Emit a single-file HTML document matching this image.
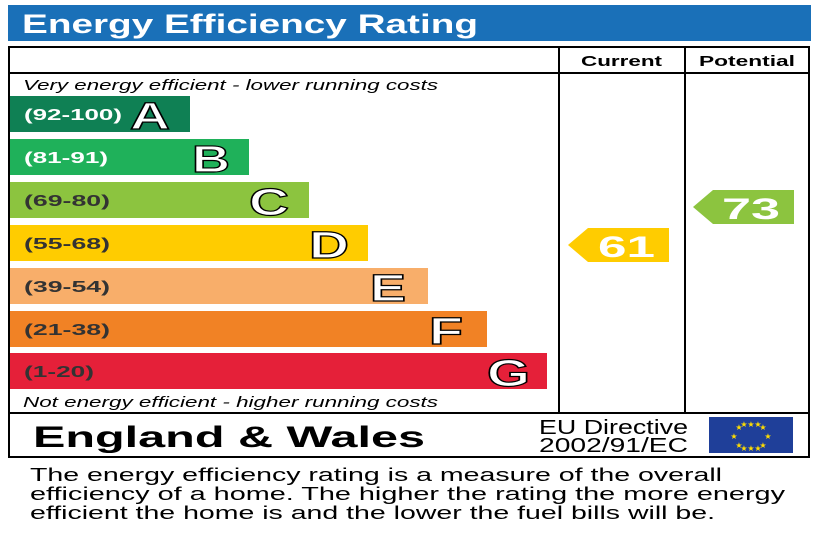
<!DOCTYPE html>
<html><head><style>body{margin:0;background:#fff}svg{display:block}</style></head><body>
<svg width="820" height="547" xmlns="http://www.w3.org/2000/svg" font-family="Liberation Sans, sans-serif">
<rect x="8" y="5" width="803" height="36" fill="#1a70b8"/>
<text x="22" y="33" font-size="27" font-weight="bold" fill="#fff" textLength="456" lengthAdjust="spacingAndGlyphs">Energy Efficiency Rating</text>
<rect x="9" y="47" width="800" height="410" fill="none" stroke="#000" stroke-width="2"/>
<line x1="9" y1="73" x2="809" y2="73" stroke="#000" stroke-width="2"/>
<line x1="559" y1="47" x2="559" y2="413" stroke="#000" stroke-width="2"/>
<line x1="685" y1="47" x2="685" y2="413" stroke="#000" stroke-width="2"/>
<line x1="9" y1="413" x2="809" y2="413" stroke="#000" stroke-width="2"/>
<text x="581" y="66" font-size="15" font-weight="bold" textLength="81" lengthAdjust="spacingAndGlyphs">Current</text>
<text x="699" y="66" font-size="15" font-weight="bold" textLength="96" lengthAdjust="spacingAndGlyphs">Potential</text>
<text x="23" y="90" font-size="15" font-style="italic" textLength="415" lengthAdjust="spacingAndGlyphs">Very energy efficient - lower running costs</text>
<text x="23" y="407" font-size="15" font-style="italic" textLength="415" lengthAdjust="spacingAndGlyphs">Not energy efficient - higher running costs</text>
<g font-weight="bold">
<rect x="10" y="96" width="180" height="36" fill="#0f8054"/>
<text x="24" y="120" font-size="16" fill="#fff" textLength="98" lengthAdjust="spacingAndGlyphs">(92-100)</text>
<text x="130" y="129" font-size="38" fill="#fff" stroke="#000" stroke-width="1.2" textLength="40" lengthAdjust="spacingAndGlyphs">A</text>
<rect x="10" y="139" width="239" height="36" fill="#1fb15a"/>
<text x="24" y="163" font-size="16" fill="#fff" textLength="84" lengthAdjust="spacingAndGlyphs">(81-91)</text>
<text x="192" y="172" font-size="38" fill="#fff" stroke="#000" stroke-width="1.2" textLength="38" lengthAdjust="spacingAndGlyphs">B</text>
<rect x="10" y="182" width="299" height="36" fill="#8cc43f"/>
<text x="24" y="206" font-size="16" fill="#333" textLength="86" lengthAdjust="spacingAndGlyphs">(69-80)</text>
<text x="249" y="215" font-size="38" fill="#fff" stroke="#000" stroke-width="1.2" textLength="40" lengthAdjust="spacingAndGlyphs">C</text>
<rect x="10" y="225" width="358" height="36" fill="#ffcc00"/>
<text x="24" y="249" font-size="16" fill="#333" textLength="86" lengthAdjust="spacingAndGlyphs">(55-68)</text>
<text x="309" y="258" font-size="38" fill="#fff" stroke="#000" stroke-width="1.2" textLength="40" lengthAdjust="spacingAndGlyphs">D</text>
<rect x="10" y="268" width="418" height="36" fill="#f8ae6a"/>
<text x="24" y="292" font-size="16" fill="#333" textLength="86" lengthAdjust="spacingAndGlyphs">(39-54)</text>
<text x="370" y="301" font-size="38" fill="#fff" stroke="#000" stroke-width="1.2" textLength="36" lengthAdjust="spacingAndGlyphs">E</text>
<rect x="10" y="311" width="477" height="36" fill="#f18225"/>
<text x="24" y="335" font-size="16" fill="#333" textLength="86" lengthAdjust="spacingAndGlyphs">(21-38)</text>
<text x="429" y="344" font-size="38" fill="#fff" stroke="#000" stroke-width="1.2" textLength="34" lengthAdjust="spacingAndGlyphs">F</text>
<rect x="10" y="353" width="537" height="36" fill="#e52039"/>
<text x="24" y="377" font-size="16" fill="#333" textLength="70" lengthAdjust="spacingAndGlyphs">(1-20)</text>
<text x="487" y="386" font-size="38" fill="#fff" stroke="#000" stroke-width="1.2" textLength="43" lengthAdjust="spacingAndGlyphs">G</text>
<polygon points="568,245 588,228 669,228 669,262 588,262" fill="#ffcc00"/>
<text x="598" y="257" font-size="30" fill="#fff" textLength="57" lengthAdjust="spacingAndGlyphs">61</text>
<polygon points="693,207 713,190 794,190 794,224 713,224" fill="#8cc43f"/>
<text x="722" y="219" font-size="30" fill="#fff" textLength="58" lengthAdjust="spacingAndGlyphs">73</text>
</g>
<text x="33" y="447" font-size="30" font-weight="bold" textLength="392" lengthAdjust="spacingAndGlyphs">England &amp; Wales</text>
<text x="539" y="434" font-size="20" textLength="149" lengthAdjust="spacingAndGlyphs">EU Directive</text>
<text x="539" y="452" font-size="20" textLength="149" lengthAdjust="spacingAndGlyphs">2002/91/EC</text>
<rect x="709" y="417" width="84" height="36" fill="#1f3f99"/>
<g fill="#ffdd00" font-size="8" text-anchor="middle">
<text x="751" y="427">★</text><text x="751" y="451">★</text>
<text x="739" y="430">★</text><text x="763" y="430">★</text>
<text x="739" y="448">★</text><text x="763" y="448">★</text>
<text x="734" y="439">★</text><text x="768" y="439">★</text>
<text x="744" y="427">★</text><text x="758" y="427">★</text>
<text x="744" y="451">★</text><text x="758" y="451">★</text>
</g>
<g font-size="18" fill="#000">
<text x="30" y="481" textLength="692" lengthAdjust="spacingAndGlyphs">The energy efficiency rating is a measure of the overall</text>
<text x="30" y="500" textLength="755" lengthAdjust="spacingAndGlyphs">efficiency of a home.  The higher the rating the more energy</text>
<text x="30" y="519" textLength="685" lengthAdjust="spacingAndGlyphs">efficient the home is and the lower the fuel bills will be.</text>
</g>
</svg>
</body></html>
